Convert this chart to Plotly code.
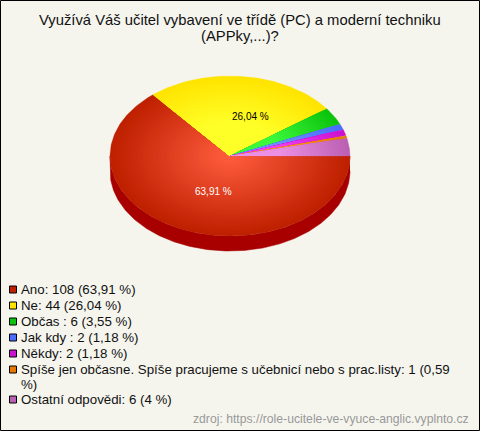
import numpy as np
import plotly.graph_objects as go

# --- data ---
title_lines = ["Využívá Váš učitel vybavení ve třídě (PC) a moderní techniku", "(APPky,...)?"]
categories = ["Ano", "Ne", "Občas ", "Jak kdy ", "Někdy",
              "Spíše jen občasne. Spíše pracujeme s učebnicí nebo s prac.listy", "Ostatní odpovědi"]
counts = [108, 44, 6, 2, 2, 1, 6]
percent_labels = ["63,91 %", "26,04 %", "3,55 %", "1,18 %", "1,18 %", "0,59\n%", "4 %"]
edge_colors = ["#BE2000", "#FFE400", "#0CC40C", "#4A6CFF", "#CC10D0", "#E87800", "#BC60B4"]
center_colors = ["#FF5C3E", "#FFFF28", "#3CF83C", "#7090FF", "#F040F0", "#FF9830", "#EC90E4"]
gradient_speed = [1.0, 1.7, 1.7, 1.7, 1.7, 1.7, 1.7]
side_color = "#A80000"
bg = "#F5F5EE"
source_text = "zdroj: https://role-ucitele-ve-vyuce-anglic.vyplnto.cz"

# --- pie geometry (pixel-scaled axes) ---
W, H = 480, 431
cx, cy, rx, ry, depth = 230, 156, 120, 80, 15
RINGS = 30


def rgb(h):
    return np.array([int(h[i:i + 2], 16) for i in (1, 3, 5)], float)


def mix(a, b, t):
    c = rgb(a) * (1 - t) + rgb(b) * t
    return "rgb(%d,%d,%d)" % tuple(c.round())


fig = go.Figure()
total = sum(counts)
fractions = np.array(counts) / total
bounds = np.concatenate([[0], np.cumsum(fractions)]) * 2 * np.pi

# side wall: the visible lower half of the ellipse, extruded downwards
for i in range(len(counts)):
    a0, a1 = bounds[i], min(bounds[i + 1], np.pi)
    if a1 <= a0:
        continue
    t = np.linspace(a0, a1, 200)
    xs = cx + rx * np.cos(t)
    ys = cy + ry * np.sin(t)
    fig.add_trace(go.Scatter(
        x=np.concatenate([xs, xs[::-1]]),
        y=np.concatenate([ys, ys[::-1] + depth]),
        mode="lines", fill="toself", fillcolor=side_color,
        line=dict(color=side_color, width=0.5), hoverinfo="skip", showlegend=False))

# top surface: slices with a stepped radial gradient
for i in range(len(counts)):
    a0, a1 = bounds[i], bounds[i + 1]
    n = max(8, int((a1 - a0) * 60))
    t = np.linspace(a0, a1, n)
    for k in range(RINGS):
        f = 1 - k / RINGS
        xs = np.concatenate([[cx], cx + f * rx * np.cos(t), [cx]])
        ys = np.concatenate([[cy], cy + f * ry * np.sin(t), [cy]])
        col = mix(edge_colors[i], center_colors[i], min(1.0, gradient_speed[i] * k / (RINGS - 1)))
        fig.add_trace(go.Scatter(
            x=xs, y=ys, mode="lines", fill="toself", fillcolor=col,
            line=dict(color=col, width=0.3 if k == 0 else 0),
            hoverinfo="skip", showlegend=False))

font = "Liberation Sans, Arial, sans-serif"
ann = []
for y, line in zip([20, 36], title_lines):
    ann.append(dict(x=240, y=y, text=line, showarrow=False, xanchor="center", yanchor="middle",
                    font=dict(family=font, size=14.8, color="#111111")))
ann.append(dict(x=213, y=191, text=percent_labels[0], showarrow=False,
                font=dict(family=font, size=10, color="#FFFFFF")))
ann.append(dict(x=250, y=116, text=percent_labels[1], showarrow=False,
                font=dict(family=font, size=10, color="#000000")))

# legend
row_y = [289.5, 305.5, 321.5, 337.5, 353.5, 369.5, 399.5]
wrap_step = 14.5
shapes = [dict(type="rect", xref="x", yref="y", x0=0.5, y0=0.5, x1=W - 0.5, y1=H - 0.5,
               line=dict(color="#000000", width=1), fillcolor="rgba(0,0,0,0)", layer="above")]
for i, c in enumerate(categories):
    shapes.append(dict(type="rect", xref="x", yref="y", x0=9.5, x1=16.5, y0=row_y[i] - 3.5, y1=row_y[i] + 3.5,
                       line=dict(color="#000000", width=1), fillcolor=edge_colors[i]))
    label = "%s: %d (%s)" % (c, counts[i], percent_labels[i])
    for j, part in enumerate(label.split("\n")):
        ann.append(dict(x=19, y=row_y[i] + j * wrap_step, text=part, showarrow=False, xanchor="left",
                        yanchor="middle", font=dict(family=font, size=13.3, color="#111111")))
ann.append(dict(x=471, y=419, text=source_text, showarrow=False, xanchor="right",
                font=dict(family=font, size=12.2, color="#999999")))

fig.update_layout(
    width=W, height=H, margin=dict(l=0, r=0, t=0, b=0), autosize=False,
    paper_bgcolor=bg, plot_bgcolor=bg, showlegend=False,
    xaxis=dict(range=[0, W], visible=False, fixedrange=True),
    yaxis=dict(range=[H, 0], visible=False, fixedrange=True),
    annotations=ann, shapes=shapes)
for a in fig.layout.annotations:
    a.xref = "x"
    a.yref = "y"

fig.write_html("out.html", config=dict(displayModeBar=False),
               post_script="document.body.style.margin='0';document.body.style.overflow='hidden';document.body.style.background='%s';" % bg)
